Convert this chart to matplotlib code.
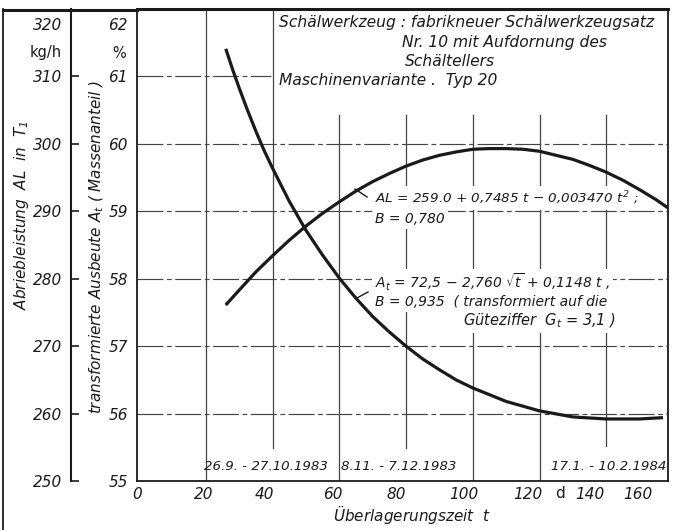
import matplotlib
matplotlib.use('Agg')
import matplotlib.pyplot as plt
from matplotlib.lines import Line2D

# ---------------- data ----------------
t_al = [26, 30, 35, 40, 45, 50, 55, 60, 65, 70, 75, 80, 85, 90, 95, 100, 105,
        110, 115, 120, 125, 130, 135, 140, 145, 150, 155, 158.5]
al_values = [276.1, 278.3, 281.0, 283.4, 285.7, 287.8, 289.7, 291.4, 293.0,
             294.4, 295.6, 296.7, 297.6, 298.3, 298.8, 299.2, 299.3, 299.3,
             299.2, 298.9, 298.3, 297.7, 296.8, 295.8, 294.6, 293.2, 291.7, 290.5]

t_at = [26, 28, 30, 32.5, 35, 37.5, 40, 45, 50, 55, 60, 65, 70, 75, 80, 85, 90,
        95, 100, 110, 120, 130, 140, 150, 157]
at_values = [61.41, 61.11, 60.83, 60.50, 60.19, 59.90, 59.64, 59.15, 58.72,
             58.35, 58.01, 57.71, 57.44, 57.21, 57.00, 56.81, 56.65, 56.50,
             56.38, 56.18, 56.04, 55.95, 55.92, 55.92, 55.94]

x_tick_labels = ['0', '20', '40', '60', '80', '100', '120', '140', '160']
al_ticks = [250, 260, 270, 280, 290, 300, 310]
at_ticks = [55, 56, 57, 58, 59, 60, 61]
grid_t = [20, 40, 60, 80, 100, 120, 140]
grid_a = [56, 57, 58, 59, 60, 61]
date_labels = ['26.9. - 27.10.1983', '8.11. - 7.12.1983', '17.1. - 10.2.1984']

# ---------------- figure ----------------
W, H = 673, 530
plt.rcParams['font.family'] = ['DejaVu Sans']
plt.rcParams['font.style'] = 'italic'
plt.rcParams['mathtext.fontset'] = 'dejavusans'
plt.rcParams['mathtext.default'] = 'it'

fig = plt.figure(figsize=(W / 100, H / 100), dpi=100)
fig.patch.set_facecolor('white')


def fx(px):
    return px / W


def fy(py):
    return 1 - py / H


AX_L, AX_R, AX_T, AX_B = 137, 668, 9, 481
ax = fig.add_axes([fx(AX_L), fy(AX_B), (AX_R - AX_L) / W, (AX_B - AX_T) / H])
ax.set_xlim(0, 158.5)
ax.set_ylim(55, 62)

ink = '#1a1a1a'
grid_c = '#444444'

for s in ['left', 'bottom', 'right']:
    ax.spines[s].set_linewidth(1.3)
    ax.spines[s].set_color(ink)
ax.spines['top'].set_linewidth(2.2)
ax.spines['top'].set_color(ink)

# x tick labels (hand lettered, drifting slightly left of the grid)
x_label_pos = [-0.6, 19.4, 37.6, 58.2, 77.0, 97.3, 116.4, 135.2, 149.6]
ax.set_xticks(x_label_pos)
ax.set_xticklabels(x_tick_labels)
ax.tick_params(axis='x', length=0, pad=4, labelsize=11, colors=ink)

ax.set_yticks(at_ticks)
ax.set_yticklabels([str(v) for v in at_ticks])
ax.tick_params(axis='y', length=0, pad=6.5, labelsize=11, colors=ink)

# vertical grid lines with their partial extents (axes fractions)
v_ext = {20: (0.0, 1.0), 40: (0.07, 1.0), 60: (0.0, 0.775), 80: (0.07, 0.775),
         100: (0.0, 0.775), 120: (0.0, 0.775), 140: (0.075, 0.775)}
for t in grid_t:
    y0, y1 = v_ext[t]
    ax.axvline(t, y0, y1, color=grid_c, lw=0.9, zorder=1)

# horizontal grid lines
h_ext = {56: (0, 1), 57: (0, 1), 58: (0, 1), 59: (0, 1), 60: (0, 1), 61: (0, 0.252)}
for a in grid_a:
    x0, x1 = h_ext[a]
    ax.axhline(a, x0, x1, color=grid_c, lw=0.85, ls=(0, (22, 3, 4, 3)), zorder=1)

# curves
ax.plot(t_at, at_values, color=ink, lw=2.3, zorder=5, solid_capstyle='butt',
        solid_joinstyle='round')

# secondary (outer) axis for AL
ax_al = ax.twinx()
ax_al.set_ylim(250, 320)
ax_al.yaxis.tick_left()
for s in ['right', 'top', 'bottom']:
    ax_al.spines[s].set_visible(False)
ax_al.spines['left'].set_visible(True)
ax_al.spines['left'].set_position(('outward', (AX_L - 71) * 0.72))
ax_al.spines['left'].set_linewidth(1.5)
ax_al.spines['left'].set_color(ink)
ax_al.set_yticks(al_ticks)
ax_al.set_yticklabels([str(v) for v in al_ticks])
ax_al.tick_params(axis='y', direction='in', length=6, width=1.2, pad=6.5,
                  labelsize=11, colors=ink)
ax_al.plot(t_al, al_values, color=ink, lw=2.3, zorder=5, solid_capstyle='butt',
           solid_joinstyle='round')


def T(px, py, s, **kw):
    kw.setdefault('fontsize', 11)
    kw.setdefault('color', ink)
    return ax.text(fx(px), fy(py), s, transform=fig.transFigure, **kw)


# top-of-axis labels
T(62, 25, '320', ha='right', va='center')
T(62, 53, 'kg/h', ha='right', va='center', style='normal', fontsize=10.5)
T(128, 25, '62', ha='right', va='center')
T(126, 53, '%', ha='right', va='center', style='normal', fontsize=10.5)

# axis titles
T(22, 215, r'Abriebleistung  AL  in  $T_1$', rotation=90, ha='center', va='center')
T(97, 247, r'transformierte Ausbeute $A_t$ ( Massenanteil )', rotation=90,
  ha='center', va='center', fontsize=11)
T(412, 514, r'Überlagerungszeit  $t$', ha='center', va='center')
T(560, 493, 'd', ha='center', va='center', style='normal')

# top annotation
T(279, 22, 'Schälwerkzeug : fabrikneuer Schälwerkzeugsatz', ha='left', va='center', fontsize=11.2)
T(402, 42, 'Nr. 10 mit Aufdornung des', ha='left', va='center', fontsize=11.2)
T(405, 62, 'Schältellers', ha='left', va='center', fontsize=11.2)
T(279, 81, 'Maschinenvariante .  Typ 20', ha='left', va='center', fontsize=11.2)

box = dict(facecolor='white', edgecolor='none', pad=2)
T(375, 198, r'AL = 259.0 + 0,7485 $t$ − 0,003470 $t^2$ ;', ha='left', va='center',
  fontsize=9.7, bbox=box, zorder=3)
T(375, 219, 'B = 0,780', ha='left', va='center', fontsize=10, bbox=box, zorder=3)
T(375, 282, r'$A_t$ = 72,5 − 2,760 $\sqrt{t}$ + 0,1148 $t$ ,', ha='left', va='center',
  fontsize=10, bbox=box, zorder=3)
T(375, 302, 'B = 0,935  ( transformiert auf die', ha='left', va='center',
  fontsize=10, bbox=box, zorder=3)
T(463, 321, r'Güteziffer  $G_t$ = 3,1 )', ha='left', va='center',
  fontsize=10.5, bbox=box, zorder=3)

# date period labels
T(266, 467, date_labels[0], ha='center', va='center', fontsize=9.6)
T(399, 467, date_labels[1], ha='center', va='center', fontsize=9.6)
T(666, 467, date_labels[2], ha='right', va='center', fontsize=9.6)

# leader lines and outer frame (figure coordinates)
for (x0, y0, x1, y1, lw) in [(355, 189, 367, 197, 1.0), (357, 298, 368, 292, 1.0),
                             (3, 9.5, AX_L, 9.5, 2.2), (3, 9, 3, 530, 1.3)]:
    fig.add_artist(Line2D([fx(x0), fx(x1)], [fy(y0), fy(y1)], color=ink, lw=lw))

fig.savefig('out.png', dpi=100, facecolor='white')
